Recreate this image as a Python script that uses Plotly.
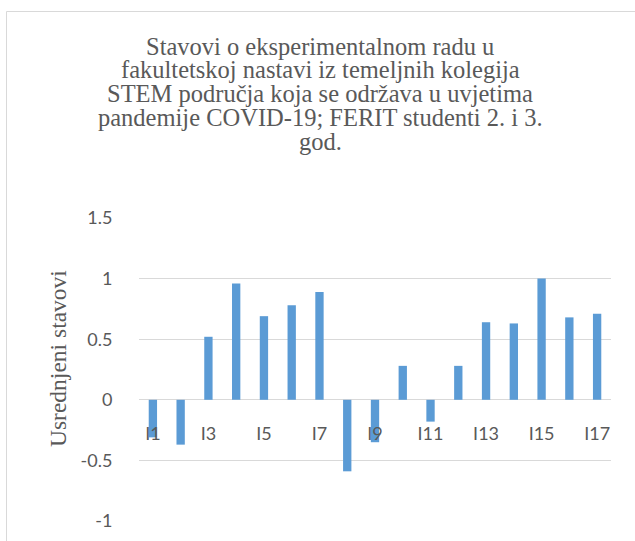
import plotly.graph_objects as go

# ---- data ----
categories = ["I1", "I2", "I3", "I4", "I5", "I6", "I7", "I8", "I9",
              "I10", "I11", "I12", "I13", "I14", "I15", "I16", "I17"]
values = [-0.31, -0.37, 0.52, 0.96, 0.69, 0.78, 0.89, -0.59, -0.35,
          0.28, -0.18, 0.28, 0.64, 0.63, 1.00, 0.68, 0.71]
x_tick_labels = ["I1", "I3", "I5", "I7", "I9", "I11", "I13", "I15", "I17"]
y_tick_values = [-1, -0.5, 0, 0.5, 1, 1.5]
y_tick_text = ["-1", "-0.5", "0", "0.5", "1", "1.5"]
title_lines = [
    "Stavovi o eksperimentalnom radu u",
    "fakultetskoj nastavi iz temeljnih kolegija",
    "STEM područja koja se održava u uvjetima",
    "pandemije COVID-19; FERIT studenti 2. i 3.",
    "god.",
]
y_title = "Usrednjeni stavovi"

W, H = 635, 541
L, R, T, B = 139, 24, 218, 20
pw, ph = W - L - R, H - T - B
GRAY = "#595959"
GRID = "#d9d9d9"
BAR = "#5B9BD5"
SANS = "Lato, Open Sans, sans-serif"
SERIF = "Liberation Serif, Times New Roman, serif"


def px_x(px):
    return (px - L) / pw


def px_y(py):
    return (H - B - py) / ph


fig = go.Figure(go.Bar(x=categories, y=values, marker=dict(color=BAR, line=dict(width=0)),
                       showlegend=False))

anns = []
for i, line in enumerate(title_lines):
    anns.append(dict(text=line, xref="paper", yref="paper",
                     x=px_x(320), y=px_y(46 + i * 23.8),
                     xanchor="center", yanchor="middle", showarrow=False,
                     font=dict(family=SERIF, size=24.5, color=GRAY)))
anns.append(dict(text=y_title, xref="paper", yref="paper", textangle=-90,
                 x=px_x(58), y=px_y(359), xanchor="center", yanchor="middle",
                 showarrow=False, font=dict(family=SERIF, size=23.5, color=GRAY)))

fig.update_layout(
    width=W, height=H,
    margin=dict(l=L, r=R, t=T, b=B, autoexpand=False),
    paper_bgcolor="white", plot_bgcolor="white",
    bargap=0.7,
    annotations=anns,
    xaxis=dict(type="category", range=[-0.5, 16.5], anchor="free", position=0.4,
               tickmode="array", tickvals=x_tick_labels, ticktext=x_tick_labels,
               showgrid=False, showline=False, zeroline=False,
               ticks="outside", ticklen=18, tickcolor="rgba(0,0,0,0)",
               tickfont=dict(family=SANS, size=18, color=GRAY)),
    yaxis=dict(range=[-1, 1.5], tickmode="array", tickvals=y_tick_values, ticktext=y_tick_text,
               showgrid=True, gridcolor=GRID, gridwidth=1, zeroline=False, showline=False,
               ticks="outside", ticklen=22, tickcolor="rgba(0,0,0,0)",
               tickfont=dict(family=SANS, size=18, color=GRAY),
               automargin=False),
    shapes=[dict(type="rect", xref="paper", yref="paper",
                 x0=px_x(6.5), x1=2, y0=-1, y1=px_y(11.5),
                 line=dict(color=GRID, width=1), fillcolor="rgba(0,0,0,0)", layer="below")],
)

fig.write_html("out.html", config={"displayModeBar": False},
               post_script="document.body.style.margin='0';document.body.style.overflow='hidden';")
